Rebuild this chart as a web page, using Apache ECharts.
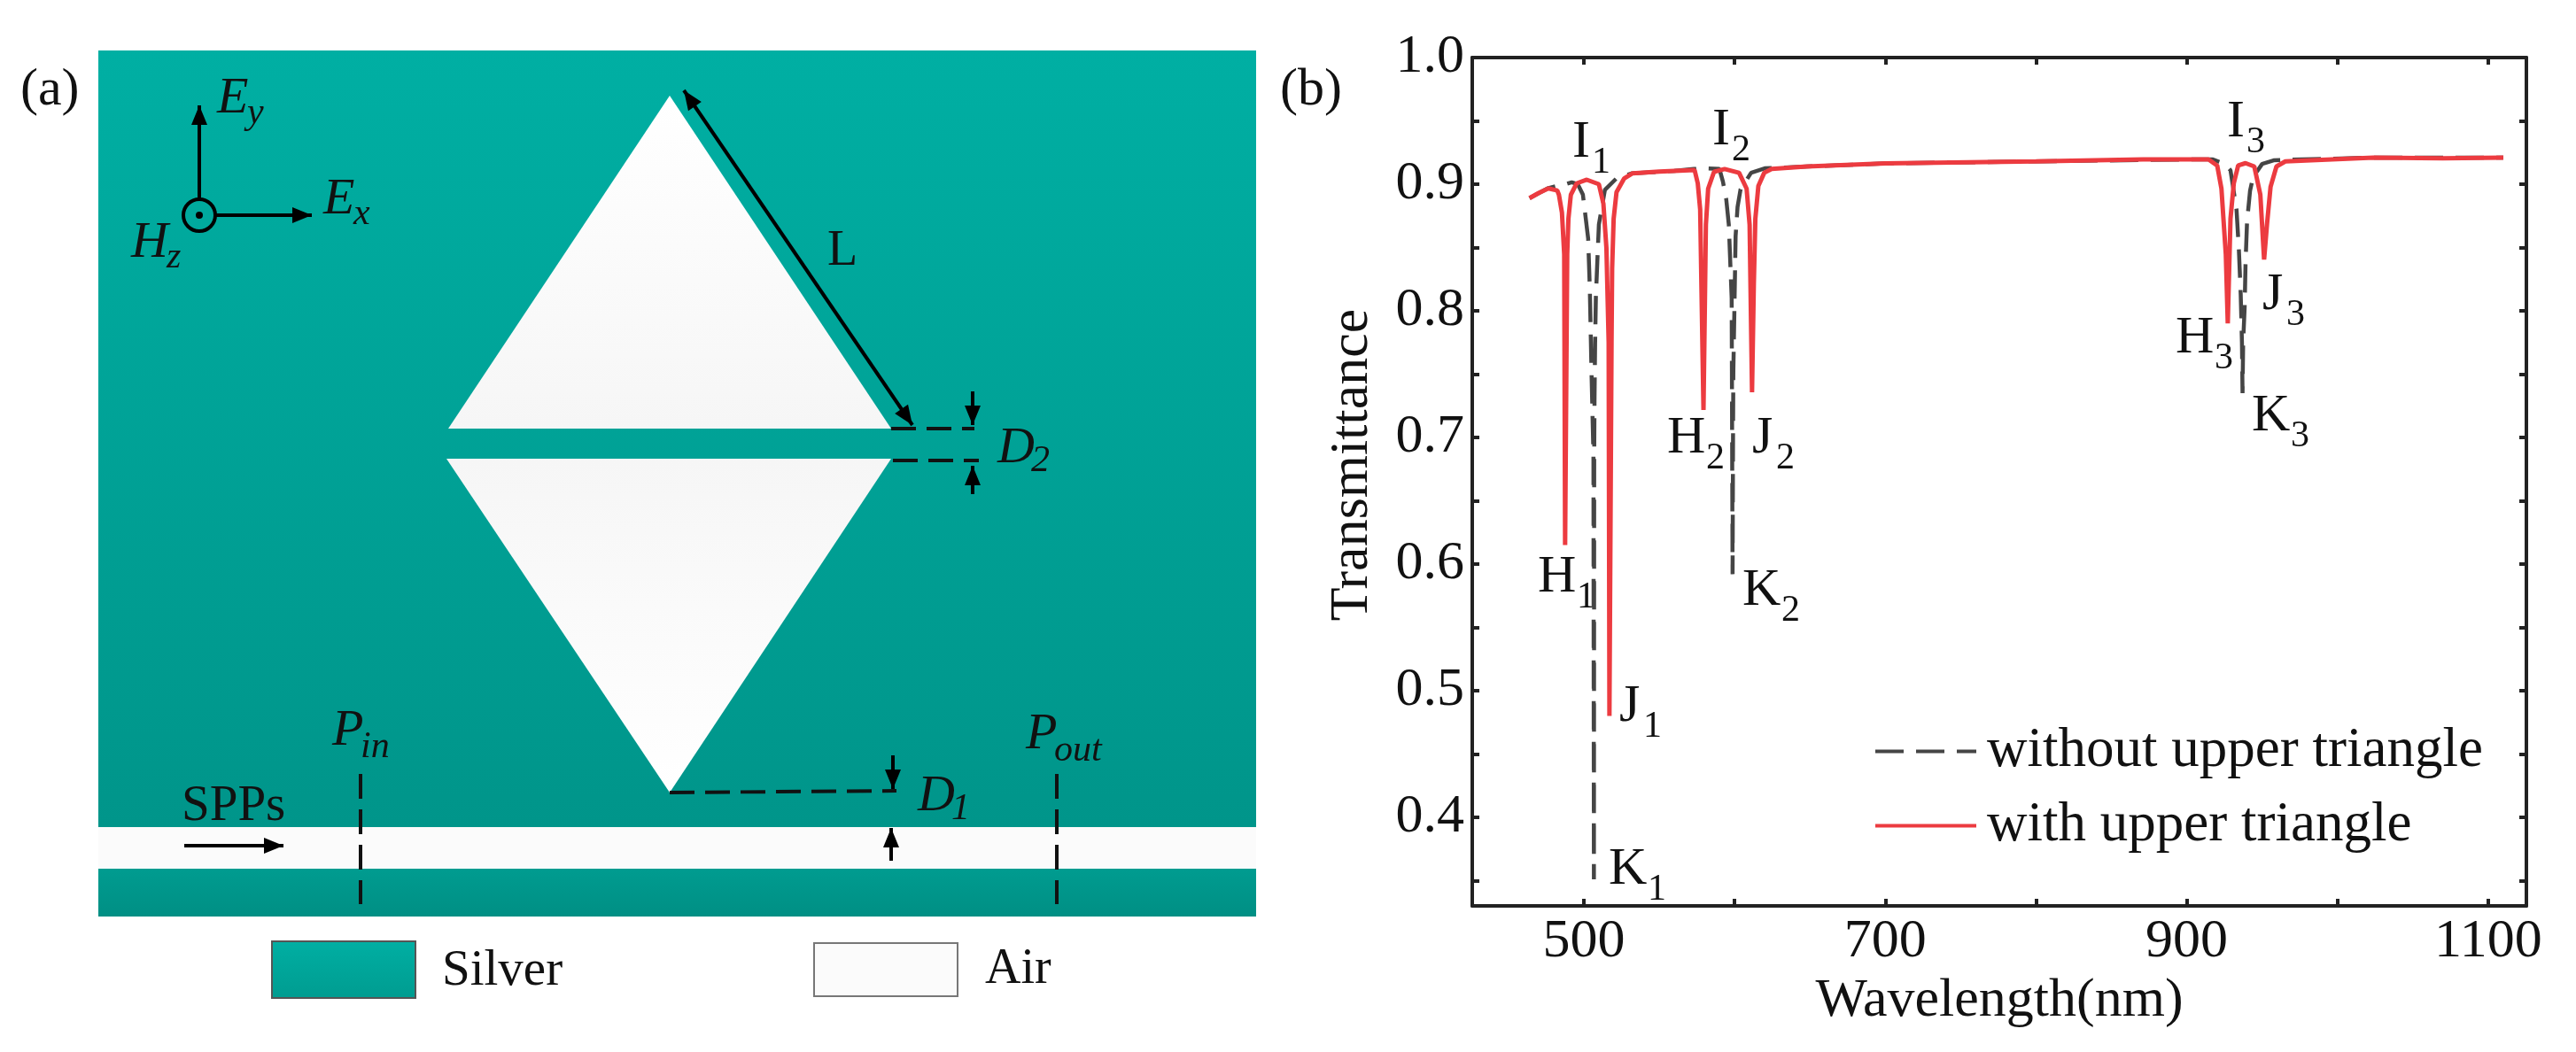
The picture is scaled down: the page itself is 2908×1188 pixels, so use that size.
<!DOCTYPE html>
<html>
<head>
<meta charset="utf-8">
<title>Transmittance</title>
<script src="https://cdn.jsdelivr.net/npm/echarts@6/dist/echarts.min.js"></script>
<style>
  html, body { margin: 0; background: #fff; }
  #chart { width: 2908px; height: 1188px; }
</style>
</head>
<body>
<div id="chart"></div>
<script>
// values
const xTicks = [500, 600, 700, 800, 900, 1000, 1100];
const xLabels = [500, 700, 900, 1100];
const yTicks = [0.35, 0.4, 0.45, 0.5, 0.55, 0.6, 0.65, 0.7, 0.75, 0.8, 0.85, 0.9, 0.95, 1.0];
const yLabels = [0.4, 0.5, 0.6, 0.7, 0.8, 0.9, 1.0];

const withoutName = "without upper triangle";
const withName = "with upper triangle";

const withoutX = [464, 476, 482, 488, 492, 496, 499.4, 502.9, 504, 505.1, 506.4, 506.7, 506.9, 507.1, 507.5, 508, 509, 510, 514, 521.7, 532, 560, 573, 580, 590, 592.3, 594.5, 596.2, 598.1, 598.7, 599, 599.2, 600.2, 600.7, 602, 604, 611, 620, 648, 700, 800, 900, 917, 925, 929, 933, 934.6, 935.8, 936.6, 937, 937.4, 938.4, 939, 940, 942, 944, 950, 957.6, 965, 1024, 1110];
const withoutY = [0.889, 0.8967, 0.8985, 0.9, 0.9015, 0.9, 0.8917, 0.857, 0.817, 0.752, 0.686, 0.351, 0.686, 0.729, 0.774, 0.81, 0.84, 0.868, 0.8955, 0.9046, 0.9086, 0.9105, 0.912, 0.9125, 0.912, 0.902, 0.888, 0.868, 0.81, 0.592, 0.7, 0.752, 0.822, 0.859, 0.882, 0.896, 0.909, 0.9125, 0.914, 0.9164, 0.918, 0.9195, 0.9196, 0.916, 0.911, 0.88, 0.8475, 0.8126, 0.775, 0.735, 0.775, 0.8028, 0.838, 0.8706, 0.895, 0.9056, 0.916, 0.9188, 0.9192, 0.921, 0.921];

const withX = [464, 470, 476.5, 482.4, 483.5, 485.5, 487, 487.6, 489, 489.8, 491.4, 495.3, 502, 510, 513, 515, 516.5, 517, 518.4, 518.8, 519.8, 521.7, 526.7, 532.4, 550, 573.5, 575.6, 577.2, 578, 579.4, 580.5, 581, 582.5, 586.4, 593.4, 603, 608, 610, 611.6, 612.8, 613.8, 615.8, 619.7, 624.6, 648, 700, 800, 871, 914.4, 920.2, 923, 925.9, 927.2, 929, 931.2, 934.1, 939, 944.8, 948.8, 951.3, 953.2, 955.6, 959.5, 965.4, 1024, 1070, 1110];
const withY = [0.889, 0.893, 0.8967, 0.895, 0.8916, 0.8776, 0.8447, 0.615, 0.8447, 0.8727, 0.8916, 0.9007, 0.9035, 0.9, 0.8846, 0.8496, 0.775, 0.48, 0.775, 0.8335, 0.8727, 0.8937, 0.9044, 0.9086, 0.91, 0.9112, 0.9007, 0.88, 0.8217, 0.7216, 0.8217, 0.868, 0.8965, 0.9098, 0.912, 0.909, 0.8965, 0.868, 0.7356, 0.8217, 0.8727, 0.8986, 0.909, 0.912, 0.914, 0.9164, 0.918, 0.9196, 0.9196, 0.9147, 0.8965, 0.8447, 0.79, 0.8727, 0.9007, 0.9147, 0.9166, 0.914, 0.8917, 0.8405, 0.868, 0.898, 0.914, 0.918, 0.921, 0.9205, 0.921];

const SERIF = "Liberation Serif";

function pairs(xs, ys) {
    return xs.map((x, i) => [x, ys[i]]);
}

// text on the page, sub is optional
function label(x, y, main, sub, opts) {
    const o = opts || {};
    const size = o.size || 60;
    const out = [{
        type: "text",
        style: { x: x, y: y, text: main, fontSize: size, fontFamily: SERIF, fontStyle: o.italic ? "italic" : "normal", fill: "#111", align: "left", verticalAlign: "middle" }
    }];
    if (sub) {
        out.push({
            type: "text",
            style: { x: x + o.dx, y: y + (o.dy || 23), text: sub, fontSize: o.subSize || 42, fontFamily: SERIF, fontStyle: o.italic ? "italic" : "normal", fill: "#111", align: "left", verticalAlign: "middle" }
        });
    }
    return out;
}

function arrow(x1, y1, x2, y2, both) {
    const a = Math.atan2(y2 - y1, x2 - x1);
    const head = (x, y, ang) => ({
        type: "polygon",
        shape: { points: [
            [x, y],
            [x - 22 * Math.cos(ang) + 9 * Math.sin(ang), y - 22 * Math.sin(ang) - 9 * Math.cos(ang)],
            [x - 22 * Math.cos(ang) - 9 * Math.sin(ang), y - 22 * Math.sin(ang) + 9 * Math.cos(ang)]
        ] },
        style: { fill: "#000" }
    });
    const out = [
        { type: "line", shape: { x1: x1, y1: y1, x2: x2, y2: y2 }, style: { stroke: "#000", lineWidth: 4 } },
        head(x2, y2, a)
    ];
    if (both) out.push(head(x1, y1, a + Math.PI));
    return out;
}

function dashed(x1, y1, x2, y2) {
    return { type: "line", shape: { x1: x1, y1: y1, x2: x2, y2: y2 }, style: { stroke: "#111", lineWidth: 4, lineDash: [28, 12] } };
}

function teal(c0, c1) {
    return new echarts.graphic.LinearGradient(0, 0, 0, 1, [{ offset: 0, color: c0 }, { offset: 1, color: c1 }]);
}

function white() {
    return new echarts.graphic.LinearGradient(0, 0, 0, 1, [{ offset: 0, color: "#ffffff" }, { offset: 1, color: "#f6f6f6" }]);
}

// panel (a), the waveguide sketch
function schematic() {
    let g = [
        { type: "rect", shape: { x: 111, y: 57, width: 1307, height: 877 }, style: { fill: teal("#00AFA3", "#00958A") } },
        { type: "rect", shape: { x: 111, y: 934, width: 1307, height: 47 }, style: { fill: "#fbfbfb" } },
        { type: "rect", shape: { x: 111, y: 981, width: 1307, height: 54 }, style: { fill: teal("#009C90", "#008F84") } },
        { type: "polygon", shape: { points: [[756, 108], [1006, 484], [506, 484]] }, style: { fill: white() } },
        { type: "polygon", shape: { points: [[504, 518], [1006, 518], [756, 895]] }, style: { fill: new echarts.graphic.LinearGradient(0, 0, 0, 1, [{ offset: 0, color: "#f6f6f6" }, { offset: 1, color: "#ffffff" }]) } },
        { type: "rect", shape: { x: 307, y: 1063, width: 162, height: 64 }, style: { fill: teal("#00AFA3", "#009C90"), stroke: "#555", lineWidth: 2 } },
        { type: "rect", shape: { x: 919, y: 1065, width: 162, height: 60 }, style: { fill: "#fbfbfb", stroke: "#777", lineWidth: 2 } },
        dashed(407, 874, 407, 1021),
        dashed(1193, 874, 1193, 1021),
        dashed(756, 895, 1012, 893),
        dashed(1006, 484, 1100, 484),
        dashed(1008, 520, 1105, 520),
        { type: "circle", shape: { cx: 225, cy: 243, r: 18 }, style: { fill: "none", stroke: "#000", lineWidth: 4 } },
        { type: "circle", shape: { cx: 225, cy: 243, r: 4 }, style: { fill: "#000" } }
    ];
    g = g.concat(
        arrow(225, 226, 225, 119),
        arrow(244, 243, 352, 243),
        arrow(772, 102, 1030, 480, true),
        arrow(208, 955, 320, 955),
        arrow(1008, 853, 1008, 891),
        arrow(1006, 972, 1006, 935),
        arrow(1098, 442, 1098, 480),
        arrow(1098, 558, 1098, 526)
    );
    g = g.concat(
        label(23, 102, "(a)", null, { size: 60 }),
        label(1445, 102, "(b)", null, { size: 60 }),
        label(245, 112, "E", "y", { italic: true, size: 58, dx: 34, dy: 16, subSize: 42 }),
        label(365, 226, "E", "x", { italic: true, size: 58, dx: 34, dy: 16, subSize: 42 }),
        label(148, 275, "H", "z", { italic: true, size: 58, dx: 40, dy: 16, subSize: 42 }),
        label(934, 284, "L", null, { size: 56 }),
        label(1126, 507, "D", "2", { italic: true, size: 58, dx: 38, dy: 14, subSize: 42 }),
        label(1036, 900, "D", "1", { italic: true, size: 58, dx: 38, dy: 14, subSize: 42 }),
        label(375, 826, "P", "in", { italic: true, size: 58, dx: 32, dy: 18, subSize: 42 }),
        label(1158, 830, "P", "out", { italic: true, size: 58, dx: 32, dy: 18, subSize: 42 }),
        label(205, 911, "SPPs", null, { size: 57 }),
        label(499, 1097, "Silver", null, { size: 57 }),
        label(1112, 1095, "Air", null, { size: 56 })
    );
    return g;
}

// H/I/J/K marks next to the dips
function dipLabels() {
    const at = [
        ["I", "1", 1775, 161], ["I", "2", 1933, 147], ["I", "3", 2514, 138],
        ["H", "1", 1736, 652], ["H", "2", 1882, 495], ["H", "3", 2456, 382],
        ["J", "1", 1828, 798], ["J", "2", 1978, 495], ["J", "3", 2554, 333],
        ["K", "1", 1816, 982], ["K", "2", 1967, 667], ["K", "3", 2542, 470]
    ];
    const widths = { I: 22, H: 44, J: 27, K: 44 };
    let g = [];
    at.forEach(a => { g = g.concat(label(a[2], a[3], a[0], a[1], { dx: widths[a[0]] })); });
    return g;
}

const chart = echarts.init(document.getElementById("chart"), null, { renderer: "canvas" });

const axisFont = { fontFamily: SERIF, fontSize: 62, color: "#111" };
const axisLine = { show: true, lineStyle: { color: "#222", width: 4 } };
const tickX = { show: true, inside: true, length: 8, customValues: xTicks, lineStyle: { color: "#222", width: 4 } };
const tickY = { show: true, inside: true, length: 8, customValues: yTicks, lineStyle: { color: "#222", width: 4 } };

chart.setOption({
    animation: false,
    backgroundColor: "#fff",
    grid: { left: 1662, top: 65, width: 1190, height: 958, containLabel: false },
    legend: {
        orient: "vertical",
        left: 2110,
        top: 812,
        itemWidth: 114,
        itemHeight: 4,  // the line icon always gets a dot, this keeps it inside the stroke
        itemGap: 21,
        data: [withoutName, withName],
        lineStyle: { width: 4 },
        textStyle: { fontFamily: SERIF, fontSize: 63, color: "#111", padding: [0, 0, 0, 7] }
    },
    xAxis: [
        {
            type: "value", min: 426, max: 1125.3, position: "bottom",
            name: "Wavelength(nm)", nameLocation: "middle", nameGap: 44,
            nameTextStyle: axisFont,
            axisLine: axisLine, axisTick: tickX, splitLine: { show: false },
            axisLabel: { customValues: xLabels, formatter: v => String(v), fontFamily: SERIF, fontSize: 62, color: "#111", margin: 10 }
        },
        {
            type: "value", min: 426, max: 1125.3, position: "top",
            axisLine: axisLine, axisTick: tickX, splitLine: { show: false }, axisLabel: { show: false }
        }
    ],
    yAxis: [
        {
            type: "value", min: 0.33, max: 1.0, position: "left",
            name: "Transmittance", nameLocation: "middle", nameGap: 104,
            nameTextStyle: Object.assign({ padding: [0, 0, 0, 38] }, axisFont),
            axisLine: axisLine, axisTick: tickY, splitLine: { show: false },
            axisLabel: { customValues: yLabels, formatter: v => v.toFixed(1), fontFamily: SERIF, fontSize: 62, color: "#111", margin: 9 }
        },
        {
            type: "value", min: 0.33, max: 1.0, position: "right",
            axisLine: axisLine, axisTick: tickY, splitLine: { show: false }, axisLabel: { show: false }
        }
    ],
    series: [
        {
            name: withoutName, type: "line", showSymbol: false, symbol: "none",
            clip: false,
            data: pairs(withoutX, withoutY),
            lineStyle: { color: "#454545", width: 4.5, type: [32, 14] },
            itemStyle: { color: "#454545" }
        },
        {
            name: withName, type: "line", showSymbol: false, symbol: "none",
            clip: false,
            data: pairs(withX, withY),
            lineStyle: { color: "#EC3B40", width: 5 },
            itemStyle: { color: "#EC3B40" }
        }
    ],
    graphic: { elements: schematic().concat(dipLabels()) }
});
</script>
</body>
</html>
